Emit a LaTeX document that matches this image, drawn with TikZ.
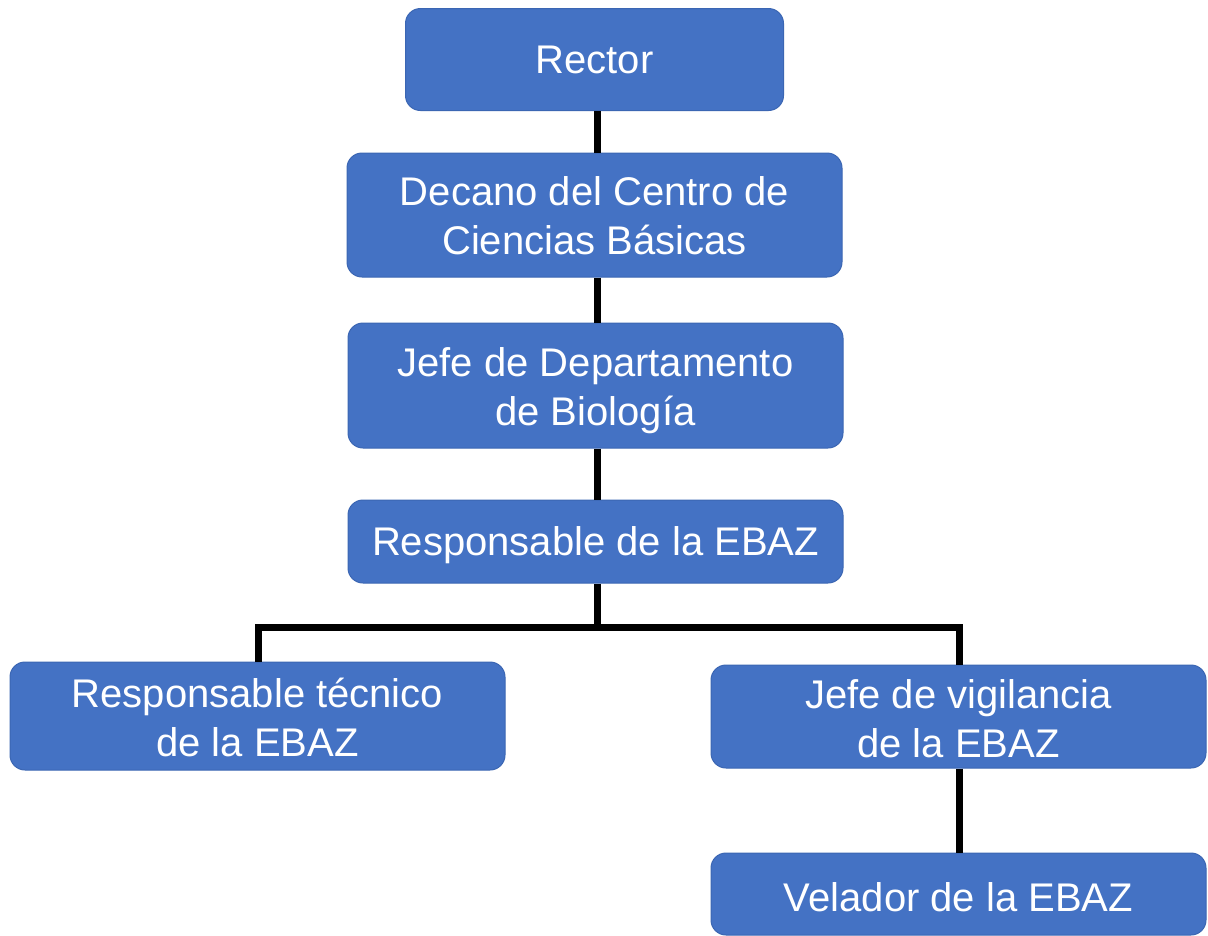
\documentclass[tikz,border=0pt]{standalone}
\usepackage{fontspec}
\setmainfont{Liberation Sans}
\definecolor{boxblue}{HTML}{4472C4}
\definecolor{boxedge}{HTML}{3B66B3}
\newcommand{\lowtxt}[2]{\raisebox{-#1}[\height][\depth]{\begin{tabular}{@{}c@{}}#2\end{tabular}}}
\begin{document}
\begin{tikzpicture}[x=1pt,y=-1pt,
  orgbox/.style={draw=boxedge,line width=1pt,fill=boxblue,rounded corners=15pt,
    text=white,align=center,inner sep=0pt,
    font=\fontsize{40}{49}\selectfont},
  link/.style={line width=7pt,draw=black}]
\useasboundingbox[fill=white] (0,0) rectangle (1208,935);
\node[orgbox,minimum width=378pt,minimum height=102pt] (rector) at (594.5,59.5) {\lowtxt{4.5pt}{Rector}};
\node[orgbox,minimum width=495pt,minimum height=124pt] (decano) at (594.5,215) {\lowtxt{5pt}{Decano del Centro de\\Ciencias Básicas}};
\node[orgbox,minimum width=495pt,minimum height=125pt] (jefe) at (595.5,385.5) {\lowtxt{6pt}{Jefe de Departamento\\de Biología}};
\node[orgbox,minimum width=495pt,minimum height=83pt] (resp) at (595.5,541.5) {\lowtxt{4.5pt}{Responsable de la EBAZ}};
\node[orgbox,minimum width=495pt,minimum height=108pt] (tec) at (257.5,716) {\lowtxt{6.5pt}{Responsable técnico\\de la EBAZ}};
\node[orgbox,minimum width=495pt,minimum height=103pt] (vig) at (958.5,716.5) {\lowtxt{6.5pt}{Jefe de vigilancia\\de la EBAZ}};
\node[orgbox,minimum width=495pt,minimum height=82pt] (vel) at (958.5,894) {\lowtxt{7.5pt}{Velador de la EBAZ}};
\coordinate (bar) at (597,627);
\draw[link] (rector.south -| bar) -- (decano.north -| bar);
\draw[link] (decano.south -| bar) -- (jefe.north -| bar);
\draw[link] (jefe.south -| bar) -- (resp.north -| bar);
\draw[link] (resp.south -| bar) -- (bar);
\draw[link] (tec.north -| 258,0) |- (bar) -| (vig.north -| 959,0);
\draw[link] (vig.south -| 959,0) -- (vel.north -| 959,0);
\end{tikzpicture}
\end{document}
